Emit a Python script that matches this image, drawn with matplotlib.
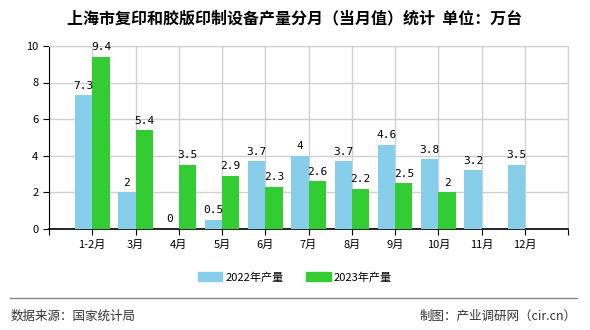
import numpy as np
import matplotlib
matplotlib.use('Agg')
import matplotlib.pyplot as plt
from matplotlib.lines import Line2D

plt.rcParams['font.family'] = ['Noto Sans CJK SC', 'DejaVu Sans']

months = ['1-2月', '3月', '4月', '5月', '6月', '7月', '8月', '9月', '10月', '11月', '12月']
y2022 = [7.3, 2, 0, 0.5, 3.7, 4, 3.7, 4.6, 3.8, 3.2, 3.5]
y2023 = [9.4, 5.4, 3.5, 2.9, 2.3, 2.6, 2.2, 2.5, 2, None, None]
names = ['2022年产量', '2023年产量']
colors = ['#87CEEB', '#33CC33']

fig = plt.figure(figsize=(5.9, 3.3), dpi=100)
ax = fig.add_axes([0.083, 0.306, 0.880, 0.555])

x = np.arange(len(months))
w = 0.4
fmt = lambda v: f'{v:g}'
for vals, off, c, n in [(y2022, -w / 2, colors[0], names[0]), (y2023, w / 2, colors[1], names[1])]:
    xs = [xi + off for xi, v in zip(x, vals) if v is not None]
    vs = [v for v in vals if v is not None]
    ax.bar(xs, vs, width=w, color=c, label=n, zorder=3)
    for xi, v in zip(xs, vs):
        ax.text(xi, v + 0.25, fmt(v), ha='center', va='bottom', fontsize=8,
                family=['DejaVu Sans Mono'], zorder=4)

ax.set_xlim(-1, len(months))
ax.set_ylim(0, 10)
ax.set_yticks(range(0, 11, 2))
ax.set_xticks(np.arange(-1, len(months) + 1))
ax.set_xticklabels([''] + months + [''])
ax.tick_params(axis='both', labelsize=8, length=4, color='black')
ax.grid(True, color='#d0d0d0', linewidth=1, zorder=0)
for s in ['top', 'right']:
    ax.spines[s].set_color('#d0d0d0')
ax.spines['left'].set_color('black')
ax.spines['bottom'].set_color('black')
ax.spines['bottom'].set_linewidth(1.2)

fig.text(0.5, 0.945, '上海市复印和胶版印制设备产量分月（当月值）统计  单位：万台',
         ha='center', va='center', fontsize=11.5, fontweight='bold')

handles = [plt.Rectangle((0, 0), 1, 1, color=c) for c in colors]
fig.legend(handles, names, loc='center', bbox_to_anchor=(0.5, 0.16), ncol=2, frameon=False,
           fontsize=8, handlelength=2.2, handleheight=0.9, columnspacing=2.0, handletextpad=0.3)

fig.add_artist(Line2D([0.017, 0.978], [0.097, 0.097], color='#888888', linewidth=1))
fig.text(0.018, 0.042, '数据来源：国家统计局', ha='left', va='center', fontsize=9, color='#333333')
fig.text(0.978, 0.042, '制图：产业调研网（cir.cn）', ha='right', va='center', fontsize=9, color='#333333')

fig.savefig('out.png', dpi=100)
